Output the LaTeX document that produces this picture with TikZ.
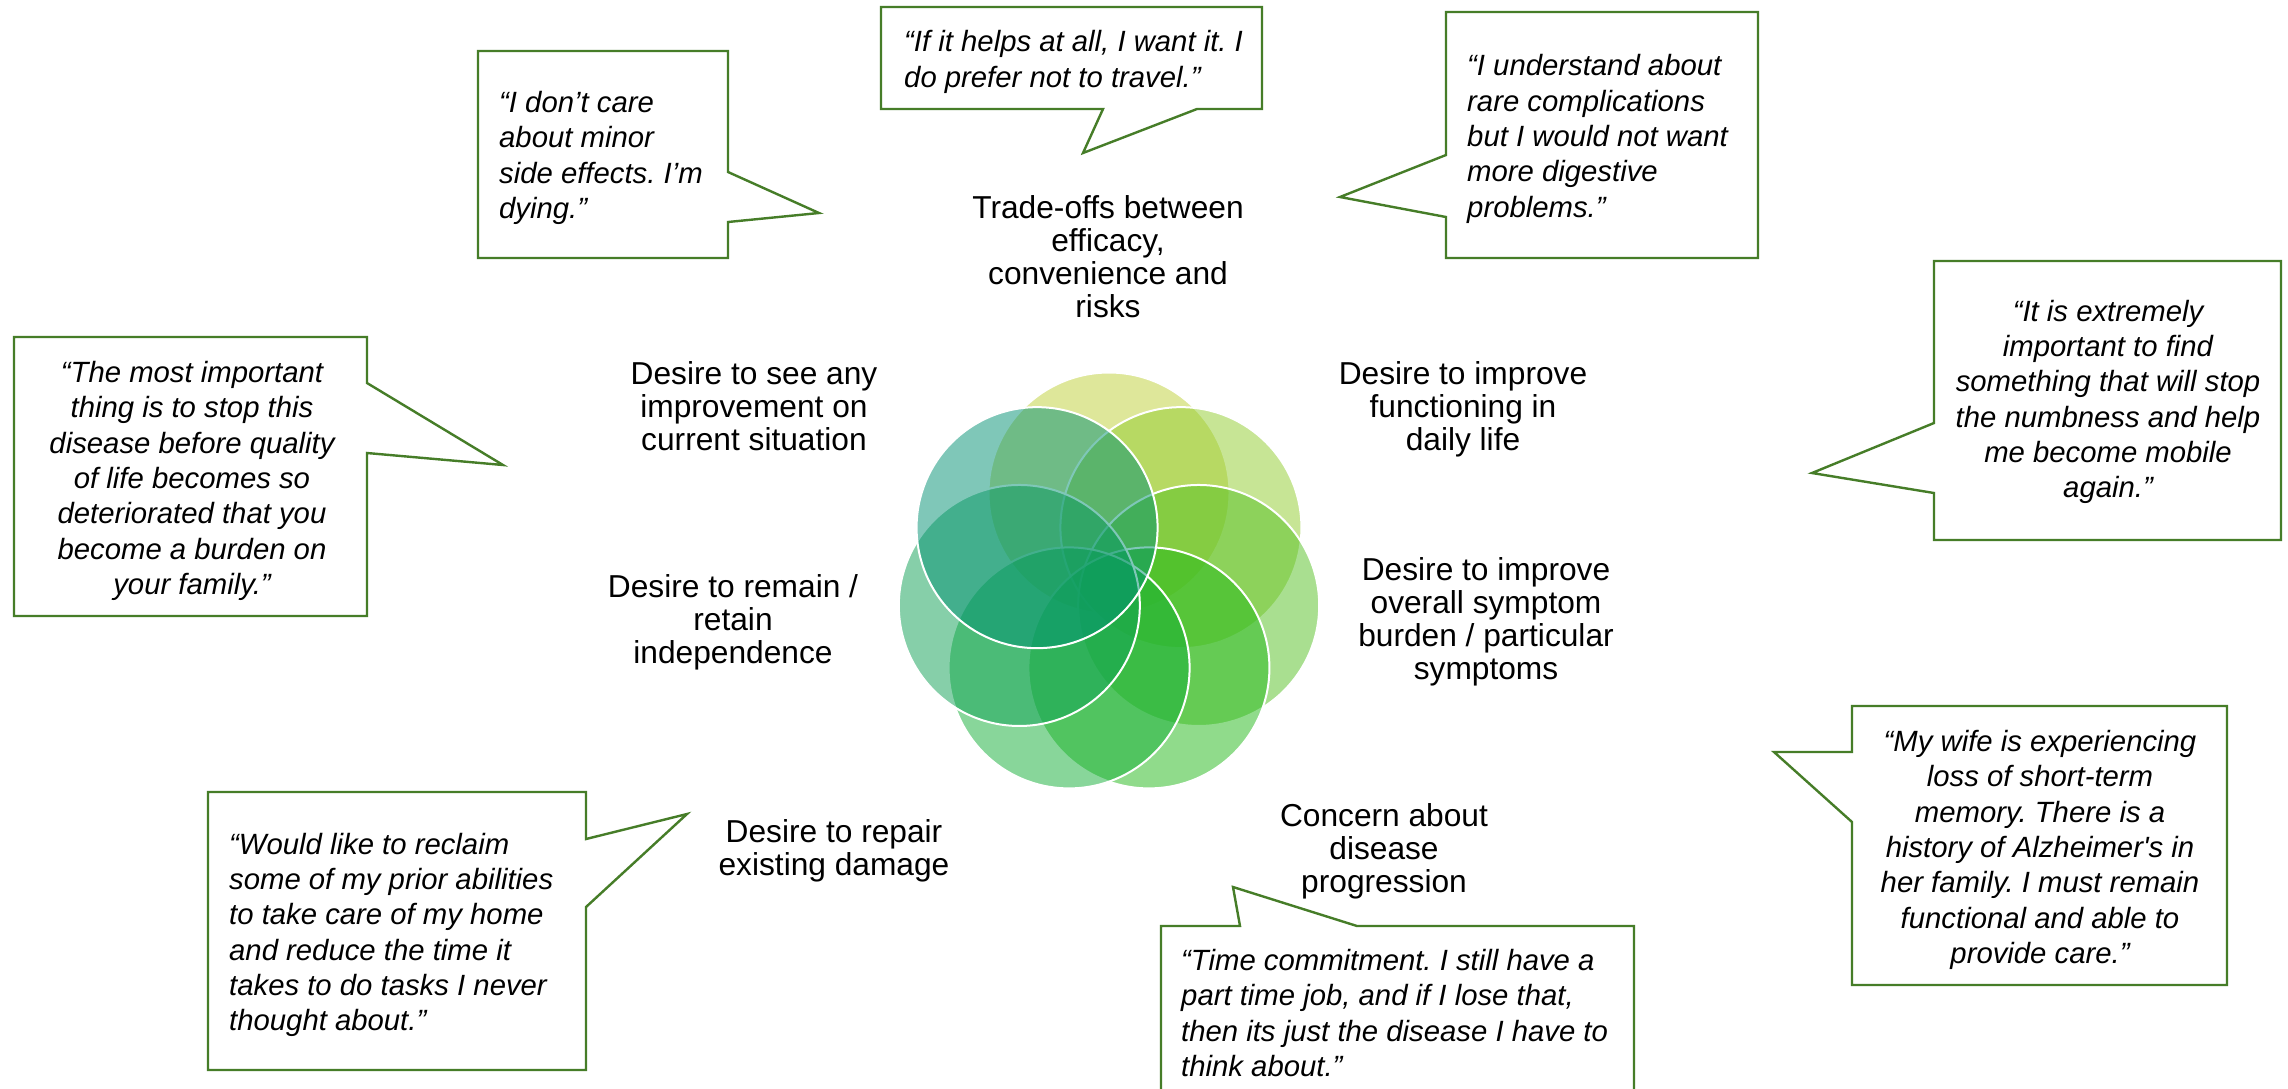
\documentclass[tikz,border=0pt]{standalone}
\usepackage{fontspec}
\setmainfont{Liberation Sans}
\frenchspacing
\definecolor{cB}{RGB}{191,209,55}
\definecolor{cC}{RGB}{145,205,45}
\definecolor{cD}{RGB}{85,193,35}
\definecolor{cE}{RGB}{35,185,25}
\definecolor{cF}{RGB}{19,175,55}
\definecolor{cG}{RGB}{15,161,85}
\definecolor{cA}{RGB}{1,145,115}
\definecolor{calloutgreen}{RGB}{70,125,40}
\tikzset{
  callout/.style={draw=calloutgreen, line width=2.4pt, line join=miter, fill=white},
  quote/.style={font=\itshape\fontsize{29.3}{35.3}\selectfont, inner sep=0pt},
  label/.style={font=\fontsize{31.7}{33}\selectfont, align=center, inner sep=0pt},
  petal/.style={circle, minimum size=241pt, inner sep=0pt, fill opacity=0.5, draw=white, line width=2pt}
}
\begin{document}
\begin{tikzpicture}[x=1pt,y=-1pt]
\useasboundingbox (0,0) rectangle (2288,1088);
\fill[white] (0,0) rectangle (2288,1088);

% petals
\foreach \a/\c [count=\i] in {90/cB, 38.571/cC, -12.857/cD, -64.286/cE, -115.714/cF, -167.143/cG, -218.571/cA}
  \node[petal, fill=\c] (c\i) at ({1109+92*cos(\a)},{585-92*sin(\a)}) {};

% callouts
\draw[callout] (478,51) -- (728,51) -- (728,172) -- (819,213) -- (728,222) -- (728,258) -- (478,258) -- cycle;
\draw[callout] (881,7) -- (1262,7) -- (1262,109) -- (1197,109) -- (1083,153) -- (1103,109) -- (881,109) -- cycle;
\draw[callout] (1446,12) -- (1758,12) -- (1758,258) -- (1446,258) -- (1446,217) -- (1340,197) -- (1446,155) -- cycle;
\draw[callout] (1934,261) -- (2281,261) -- (2281,540) -- (1934,540) -- (1934,493) -- (1812,473) -- (1934,423) -- cycle;
\draw[callout] (14,337) -- (367,337) -- (367,383) -- (503,465) -- (367,453) -- (367,616) -- (14,616) -- cycle;
\draw[callout] (208,792) -- (586,792) -- (586,839) -- (687,814) -- (586,907) -- (586,1070) -- (208,1070) -- cycle;
\draw[callout] (1161,1095) -- (1161,926) -- (1240,926) -- (1233,887) -- (1357,926) -- (1634,926) -- (1634,1095);
\draw[callout] (1852,706) -- (2227,706) -- (2227,985) -- (1852,985) -- (1852,822) -- (1774,752) -- (1852,752) -- cycle;

% quotes
\node[quote, anchor=west, align=left] (q1) at (499,158) {“I don’t care\\about minor\\side effects. I’m\\dying.”};
\node[quote, anchor=west, align=left] (q2) at (904,62) {“If it helps at all, I want it. I\\do prefer not to travel.”};
\node[quote, anchor=west, align=left] (q3) at (1467,139) {“I understand about\\rare complications\\but I would not want\\more digestive\\problems.”};
\node[quote, align=center] (q4) at (2108,402) {“It is extremely\\important to find\\something that will stop\\the numbness and help\\me become mobile\\again.”};
\node[quote, align=center] (q5) at (192,481) {“The most important\\thing is to stop this\\disease before quality\\of life becomes so\\deteriorated that you\\become a burden on\\your family.”};
\node[quote, anchor=west, align=left] (q6) at (229,935) {“Would like to reclaim\\some of my prior abilities\\to take care of my home\\and reduce the time it\\takes to do tasks I never\\thought about.”};
\node[quote, anchor=west, align=left] (q7) at (1181,1013) {“Time commitment. I still have a\\part time job, and if I lose that,\\then its just the disease I have to\\think about.”};
\node[quote, align=center] (q8) at (2040,850) {“My wife is experiencing\\loss of short-term\\memory. There is a\\history of Alzheimer\textquotesingle s in\\her family. I must remain\\functional and able to\\provide care.”};

% labels
\node[label] (l1) at (1108,257) {Trade-offs between\\efficacy,\\convenience and\\risks};
\node[label] (l2) at (1463,409) {Desire to improve\\functioning in\\daily life};
\node[label] (l3) at (1486,622) {Desire to improve\\overall symptom\\burden / particular\\symptoms};
\node[label] (l4) at (1384,851) {Concern about\\disease\\progression};
\node[label] (l5) at (834,851) {Desire to repair\\existing damage};
\node[label] (l6) at (733,622) {Desire to remain /\\retain\\independence};
\node[label] (l7) at (754,406) {Desire to see any\\improvement on\\current situation};
\end{tikzpicture}
\end{document}
